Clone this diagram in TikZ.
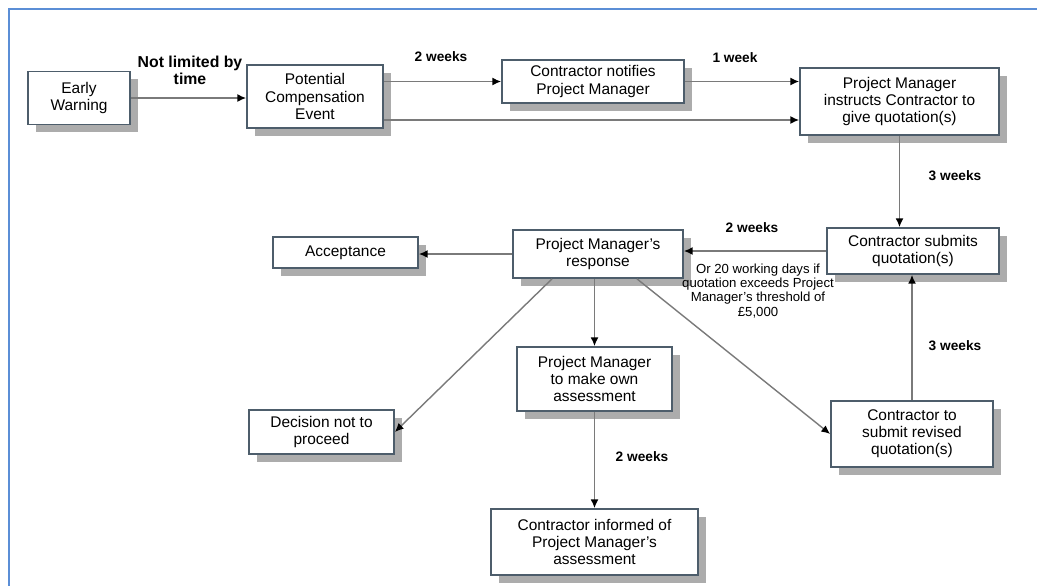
\documentclass[tikz,border=0pt]{standalone}
\usepackage{fontspec}
\setmainfont{Liberation Sans}
\usetikzlibrary{arrows.meta, shadows}

\definecolor{frameblue}{HTML}{5B8ED6}
\definecolor{boxline}{HTML}{4D5D6B}
\definecolor{arrowgray}{HTML}{7A7A7A}

\begin{document}
\begin{tikzpicture}[x=0.02cm, y=-0.02cm,
		box/.style={draw=boxline, line width=1pt, fill=white, align=center,
			inner sep=1pt, font=\fontsize{8.8}{9.7}\selectfont,
			drop shadow={shadow xshift=4.5pt, shadow yshift=-4.5pt, fill=gray!65, opacity=1}},
		conn/.style={draw=arrowgray, line width=0.8pt, -{Latex[length=5pt, width=4.5pt, black]}},
		lbl/.style={font=\fontsize{7.8}{9}\selectfont\bfseries, align=center},
		note/.style={font=\fontsize{7.5}{8}\selectfont, align=center, inner sep=0pt}]
		\useasboundingbox (0,0) rectangle (1037,585);

		% Frame
		\draw[frameblue, line width=1.6pt] (9,600) -- (9,9) -- (1050,9);

		% Boxes
		\node[box, minimum width=2.04cm, minimum height=1.06cm] (ew) at (79,98) {Early\\Warning};
		\node[box, minimum width=2.72cm, minimum height=1.26cm] (pce) at (315,96.5) {Potential\\Compensation\\Event};
		\node[box, minimum width=3.64cm, minimum height=0.86cm] (cn) at (593,81.5) {Contractor notifies\\Project Manager};
		\node[box, minimum width=3.98cm, minimum height=1.34cm] (pmi) at (899.5,101.5) {Project Manager\\instructs Contractor to\\give quotation(s)};
		\node[box, minimum width=3.44cm, minimum height=0.92cm] (csq) at (913,251) {Contractor submits\\quotation(s)};
		\node[box, minimum width=3.40cm, minimum height=0.96cm] (pmr) at (598,254) {Project Manager's\\response};
		\node[box, minimum width=2.90cm, minimum height=0.62cm] (acc) at (345.5,252.5) {Acceptance};
		\node[box, minimum width=2.90cm, minimum height=0.88cm] (dnp) at (321.5,432) {Decision not to\\proceed};
		\node[box, minimum width=3.10cm, minimum height=1.28cm] (pmo) at (594.5,379) {Project Manager\\to make own\\assessment};
		\node[box, minimum width=4.14cm, minimum height=1.32cm] (ci) at (594.5,542) {Contractor informed of\\Project Manager's\\assessment};
		\node[box, minimum width=3.24cm, minimum height=1.32cm] (crq) at (912,434) {Contractor to\\submit revised\\quotation(s)};

		% Connectors
		\draw[conn] (ew.east) -- (ew.east -| pce.west);
		\draw[conn] (pce.east |- cn.west) -- (cn.west);
		\draw[conn] (cn.east) -- (cn.east -| pmi.west);
		\draw[conn] ([yshift=-0.47cm]pce.east) -- ([yshift=-0.47cm]pce.east -| pmi.west);
		\draw[conn] (pmi.south) -- (pmi.south |- csq.north);
		\draw[conn] (csq.west) -- (csq.west -| pmr.east);
		\draw[conn] (pmr.west) -- (pmr.west -| acc.east);
		\draw[conn] ([xshift=-0.92cm]pmr.south) -- (dnp.east);
		\draw[conn] (pmo.north |- pmr.south) -- (pmo.north);
		\draw[conn] ([xshift=0.78cm]pmr.south) -- (crq.west);
		\draw[conn] (pmo.south) -- (ci.north);
		\draw[conn] (crq.north) -- (crq.north |- csq.south);

		% Time labels
		\node[lbl, font=\fontsize{9}{9.6}\selectfont\bfseries] (t1) at (190,70) {Not limited by\\time};
		\node[lbl] (t2) at (441,57) {2 weeks};
		\node[lbl] (t3) at (735,58) {1 week};
		\node[lbl] (t4) at (955,176) {3 weeks};
		\node[lbl] (t5) at (752,228) {2 weeks};
		\node[note] (t6) at (758,291) {Or 20 working days if\\quotation exceeds Project\\Manager's threshold of\\£5,000};
		\node[lbl] (t7) at (955,346) {3 weeks};
		\node[lbl] (t8) at (642,457) {2 weeks};
	\end{tikzpicture}
\end{document}
